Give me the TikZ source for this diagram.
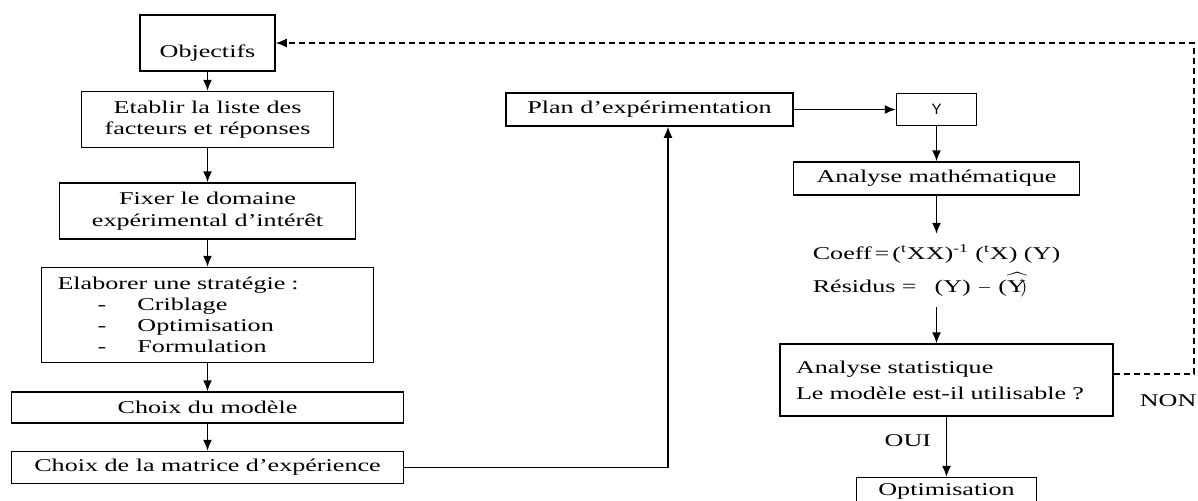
\documentclass[tikz,border=0pt]{standalone}
\usepackage{fontspec}
\setmainfont{Liberation Serif}[FakeStretch=1.45]
\setsansfont{Liberation Sans}
\usetikzlibrary{positioning, arrows.meta, calc}

\newcommand{\stratpoint}[1]{\hspace*{20pt}\makebox[20pt][l]{-}#1}

\begin{document}
\begin{tikzpicture}[
    x=0.5pt, y=-0.5pt,
    font=\fontsize{9pt}{10.8pt}\selectfont,
    box/.style={rectangle, draw, line width=0.75pt, align=center, inner sep=2pt},
    textbox/.style={box, align=left, inner xsep=8pt},
    arr/.style={-{Latex[length=5.5pt, width=4.5pt]}, line width=0.75pt},
    ]
   \useasboundingbox (0,0) rectangle (1198,500);

   % Preparation steps.
   \node[box, minimum width=67.5pt, text height=18pt, text depth=4pt, inner ysep=3pt] (obj) at (207.5,43) {Objectifs};
   \node[box, below=9.5pt of obj, minimum width=126pt, minimum height=28pt] (liste) {Etablir la liste des\\facteurs et réponses};
   \node[box, below=17pt of liste, minimum width=148pt, minimum height=28pt] (domaine) {Fixer le domaine\\expérimental d’intérêt};
   \node[textbox, below=13.5pt of domaine, text width=150pt, minimum height=47.5pt,
         font=\fontsize{9pt}{10.4pt}\selectfont] (strat) {Elaborer une stratégie :\\\stratpoint{Criblage}\\\stratpoint{Optimisation}\\\stratpoint{Formulation}};
   \node[box, below=14pt of strat, minimum width=196pt, minimum height=15.5pt] (modele) {Choix du modèle};
   \node[box, below=13.5pt of modele, minimum width=196pt, minimum height=16pt] (matrice) {Choix de la matrice d’expérience};

   \draw[arr] (obj) -- (liste);
   \draw[arr] (liste) -- (domaine);
   \draw[arr] (domaine) -- (strat);
   \draw[arr] (strat) -- (modele);
   \draw[arr] (modele) -- (matrice);

   % Experiments and analysis.
   \node[box, minimum width=143.5pt, minimum height=16.5pt] (plan) at (649.5,109.5) {Plan d’expérimentation};
   \node[box, right=51pt of plan, minimum width=40pt, minimum height=16pt,
         font=\sffamily\fontsize{7.5pt}{8pt}\selectfont] (ybox) {Y};
   \node[box, below=17.5pt of ybox, minimum width=143pt, minimum height=16.5pt] (math) {Analyse mathématique};
   \node[below=19pt of math, align=left, inner xsep=2pt, inner ysep=5pt] (coeff)
        {Coeff\,=\,(\textsuperscript{t}XX)\textsuperscript{-1} (\textsuperscript{t}X) (Y)\\[3.5pt]
         Résidus =\hspace{9pt}(Y) $-$ ($\widehat{\mathrm{Y})}$};
   \node[textbox, below=18pt of coeff, xshift=5pt, text width=150.5pt, minimum height=36pt] (stat)
        {Analyse statistique\\[2.2pt]Le modèle est-il utilisable ?};
   \node[box, below=30pt of stat, minimum width=90pt, text height=6pt, text depth=10pt, inner ysep=3pt] (optim) {Optimisation};
   \node[right=9.5pt of stat, yshift=-10.5pt] (non) {NON};

   \draw[arr] (matrice.east) -| ([xshift=9.25pt]plan.south);
   \draw[arr] (plan) -- (ybox);
   \draw[arr] (ybox) -- (math);
   \draw[arr] (math) -- (coeff);
   \draw[arr] (coeff.south) -- (coeff.south |- stat.north);
   \draw[arr] (stat) -- (optim) node[pos=0.4, left=4pt] (oui) {OUI};

   % Back to the objectives.
   \draw[arr, dash pattern=on 3pt off 2pt] ([yshift=3pt]stat.east) -- ++(40pt,0pt) |- (obj.east);

\end{tikzpicture}
\end{document}
